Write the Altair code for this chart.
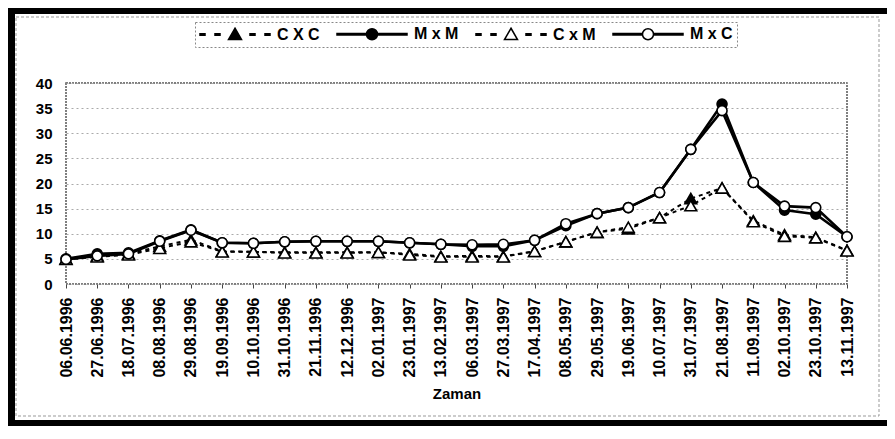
import altair as alt
import pandas as pd

# ---------------- data ----------------
dates = ["06.06.1996", "27.06.1996", "18.07.1996", "08.08.1996", "29.08.1996",
         "19.09.1996", "10.10.1996", "31.10.1996", "21.11.1996", "12.12.1996",
         "02.01.1997", "23.01.1997", "13.02.1997", "06.03.1997", "27.03.1997",
         "17.04.1997", "08.05.1997", "29.05.1997", "19.06.1997", "10.07.1997",
         "31.07.1997", "21.08.1997", "11.09.1997", "02.10.1997", "23.10.1997",
         "13.11.1997"]
series_names = ["C X C", "M x M", "C x M", "M x C"]
cxc = [5.0, 5.6, 6.0, 7.5, 8.8, 6.5, 6.4, 6.3, 6.3, 6.3, 6.3, 6.0, 5.5,
       5.6, 5.5, 6.5, 8.4, 10.3, 11.0, 13.2, 17.0, 19.1, 12.6, 9.8, 9.3, 6.7]
mxm = [5.0, 6.0, 6.2, 8.6, 10.8, 8.2, 8.1, 8.4, 8.5, 8.5, 8.5, 8.2, 7.9,
       7.5, 7.5, 8.7, 11.6, 14.0, 15.2, 18.2, 26.8, 35.8, 20.2, 14.7, 13.9, 9.4]
cxm = [4.9, 5.4, 5.8, 7.1, 8.4, 6.4, 6.4, 6.2, 6.2, 6.2, 6.3, 5.8, 5.4,
       5.4, 5.4, 6.5, 8.4, 10.3, 11.3, 13.2, 15.6, 19.1, 12.4, 9.5, 9.2, 6.6]
mxc = [4.9, 5.6, 6.0, 8.5, 10.7, 8.2, 8.1, 8.4, 8.5, 8.5, 8.5, 8.2, 7.9,
       7.8, 7.9, 8.7, 12.0, 14.0, 15.2, 18.2, 26.8, 34.5, 20.2, 15.5, 15.2, 9.4]
y_ticks = [0, 5, 10, 15, 20, 25, 30, 35, 40]

rows = []
for name, vals in zip(series_names, [cxc, mxm, cxm, mxc]):
    for d, v in zip(dates, vals):
        rows.append({"date": d, "series": name, "value": v})
df = pd.DataFrame(rows)

FONT = "Liberation Sans"

x_enc = alt.X("date:N", sort=dates,
              scale=alt.Scale(type="point", padding=0),
              axis=alt.Axis(title="Zaman", labelAngle=270, labelOverlap=False))
y_enc = alt.Y("value:Q", scale=alt.Scale(domain=[0, 40], nice=False),
              axis=alt.Axis(title=None, values=y_ticks))

styles = {
    "C X C": dict(dash=True, shape="triangle-up", fill="black", size=140),
    "M x M": dict(dash=False, shape="circle", fill="black", size=100),
    "C x M": dict(dash=True, shape="triangle-up", fill="white", size=140),
    "M x C": dict(dash=False, shape="circle", fill="white", size=100),
}

base = alt.Chart(df)

# ---------------- decorations (frame) ----------------
one = pd.DataFrame({"k": [0]})
deco = [
    alt.Chart(one).mark_rect(fillOpacity=0, stroke="#999999", strokeWidth=1,
                             strokeDash=[3, 2]).encode(
        x=alt.value(-50), x2=alt.value(813), y=alt.value(-66), y2=alt.value(333)),
    alt.Chart(one).mark_rule(color="black", strokeWidth=7).encode(
        x=alt.value(-54.5), y=alt.value(-75), y2=alt.value(343)),
    alt.Chart(one).mark_rule(color="black", strokeWidth=6).encode(
        x=alt.value(-58), x2=alt.value(821), y=alt.value(-72)),
    alt.Chart(one).mark_rule(color="black", strokeWidth=6).encode(
        x=alt.value(-58), x2=alt.value(821), y=alt.value(340)),
]

# ---------------- data layers ----------------
layers = []
for s in series_names:
    st = styles[s]
    line_kw = dict(color="black", strokeWidth=2.0 if st["dash"] else 2.6)
    if st["dash"]:
        line_kw["strokeDash"] = [4, 4]
    layers.append(base.transform_filter(alt.datum.series == s)
                  .mark_line(**line_kw).encode(x=x_enc, y=y_enc))
for s in series_names:
    st = styles[s]
    layers.append(base.transform_filter(alt.datum.series == s)
                  .mark_point(shape=st["shape"], filled=True, fill=st["fill"],
                              stroke="black", strokeWidth=1.6, size=st["size"],
                              opacity=1)
                  .encode(x=x_enc, y=y_enc))

# ---------------- legend (symbols drawn by the legend itself) ----------------
dash_line = ("M-7,-0.15H-6V0.15H-7Z M-4,-0.15H-3V0.15H-4Z "
             "M3,-0.15H4V0.15H3Z M6,-0.15H7V0.15H6Z ")
solid_line = "M-7,-0.15H-1.1V0.15H-7Z M1.1,-0.15H7V0.15H1.1Z "
tri = "M0,-1.25L1.3,1L-1.3,1Z"
circ = "M1.1,0A1.1,1.1 0 1,1 -1.1,0A1.1,1.1 0 1,1 1.1,0Z"
legend_paths = [dash_line + tri, solid_line + circ, dash_line + tri, solid_line + circ]
legend_fills = ["black", "black", "white", "white"]
legend_strokes = ["black", "black", "black", "black"]

leg = alt.Legend(title=None, orient="none", legendX=129, legendY=-61,
                 direction="horizontal", columns=4, symbolSize=100,
                 symbolStrokeWidth=1.5, symbolStrokeColor="black",
                 symbolOpacity=1,
                 symbolOffset=28, labelOffset=34, columnPadding=14,
                 labelFont=FONT, labelFontSize=16, labelFontWeight="bold",
                 labelColor="black", padding=4)

legend_layer = base.transform_filter("false").mark_point(
    size=100, strokeWidth=1.5, opacity=1, filled=False
).encode(
    x=x_enc, y=y_enc,
    shape=alt.Shape("series:N", scale=alt.Scale(domain=series_names, range=legend_paths),
                    legend=leg),
    fill=alt.Fill("series:N", scale=alt.Scale(domain=series_names, range=legend_fills),
                  legend=leg),
    stroke=alt.Stroke("series:N", scale=alt.Scale(domain=series_names, range=legend_strokes),
                      legend=leg),
)

chart = alt.layer(*deco, *layers, legend_layer).properties(
    width=781, height=201,
    padding={"left": 58, "top": 75, "right": 40, "bottom": 142},
    autosize=alt.AutoSizeParams(type="none"),
    background="white",
).configure_view(
    stroke="#555555", strokeWidth=1.5, strokeDash=[2, 1]
).configure_axisX(
    labelFont=FONT, labelFontSize=16, labelFontWeight="bold", labelColor="black",
    tickSize=4, tickColor="#444444", domain=False, grid=False, labelPadding=9,
    titleFont=FONT, titleFontSize=15, titleFontWeight="bold", titleColor="black",
    titlePadding=9,
).configure_axisY(
    labelFont=FONT, labelFontSize=15, labelFontWeight="bold", labelColor="black",
    ticks=False, domain=False, grid=True, gridColor="#aaaaaa", gridDash=[2, 3],
    labelPadding=14,
).configure_legend(
    strokeColor="#888888", strokeDash=[2, 2], strokeWidth=1, fillColor="white",
    cornerRadius=0,
)

chart.save("out.html", embed_options={"renderer": "svg", "actions": False})
